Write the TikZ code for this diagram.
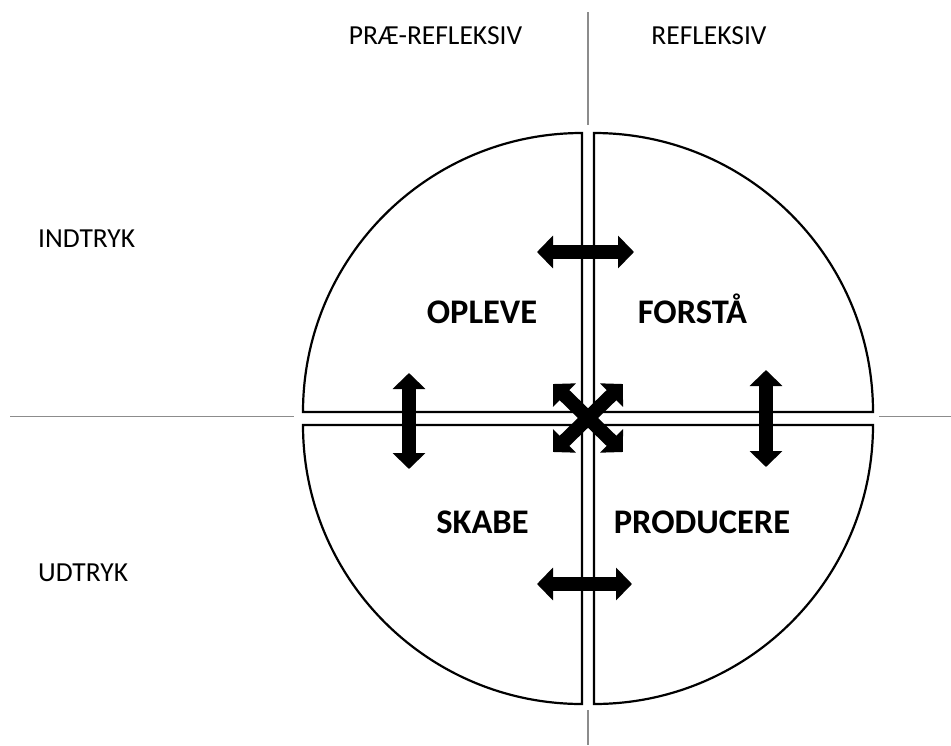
\documentclass[tikz,border=0pt]{standalone}
\usepackage{fontspec}
\setmainfont{Carlito}
\usetikzlibrary{arrows.meta}
\begin{document}
\begin{tikzpicture}[x=1pt,y=-1pt,
  quad/.style={draw=black,line width=2.2pt,fill=white,line join=miter},
  axisline/.style={draw=black!45,line width=1.3pt},
  blockarrow/.style={line width=14pt,{Triangle[length=16pt,width=32pt]}-{Triangle[length=16pt,width=32pt]}},
  hlabel/.style={font=\fontsize{27.5}{32}\selectfont,inner sep=0pt,anchor=base},
  qlabel/.style={font=\fontsize{34.5}{40}\selectfont\bfseries,inner sep=0pt,anchor=base}]
\useasboundingbox[fill=white] (0,0) rectangle (951,745);
% axis lines
\coordinate (hl1) at (10,416.5); \coordinate (hl2) at (294,416.5);
\coordinate (hr1) at (879,416.5); \coordinate (hr2) at (951,416.5);
\coordinate (vt1) at (588,12); \coordinate (vt2) at (588,125);
\coordinate (vb1) at (588,710); \coordinate (vb2) at (588,745);
\draw[axisline] (hl1) -- (hl2);
\draw[axisline] (hr1) -- (hr2);
\draw[axisline] (vt1) -- (vt2);
\draw[axisline] (vb1) -- (vb2);
% quadrants
\draw[quad] (582,412) -- (303,412) arc[start angle=180,end angle=270,radius=279] -- cycle;
\draw[quad] (594,412) -- (873,412) arc[start angle=0,end angle=-90,radius=279] -- cycle;
\draw[quad] (582,425) -- (303,425) arc[start angle=180,end angle=90,radius=279] -- cycle;
\draw[quad] (594,425) -- (873,425) arc[start angle=0,end angle=90,radius=279] -- cycle;
% headers
\node[hlabel] (pre) at (435.5,44) {PRÆ-REFLEKSIV};
\node[hlabel] (ref) at (709,44) {REFLEKSIV};
\node[hlabel,anchor=base west] (ind) at (38,247) {INDTRYK};
\node[hlabel,anchor=base west] (udt) at (38,581) {UDTRYK};
% quadrant labels
\node[qlabel] (opl) at (482,323) {OPLEVE};
\node[qlabel] (for) at (692.5,323) {FORSTÅ};
\node[qlabel] (ska) at (482.5,533) {SKABE};
\node[qlabel] (pro) at (702,533) {PRODUCERE};
% arrows
\coordinate (t1) at (537,252); \coordinate (t2) at (634,252);
\coordinate (b1) at (537,584); \coordinate (b2) at (632,584);
\coordinate (l1) at (409,373); \coordinate (l2) at (409,469);
\coordinate (r1) at (766,370); \coordinate (r2) at (766,467);
\coordinate (d1) at (553,384); \coordinate (d2) at (623,452);
\coordinate (e1) at (623,384); \coordinate (e2) at (553,452);
\draw[blockarrow] (t1) -- (t2);
\draw[blockarrow] (b1) -- (b2);
\draw[blockarrow] (l1) -- (l2);
\draw[blockarrow] (r1) -- (r2);
\draw[blockarrow] (d1) -- (d2);
\draw[blockarrow] (e1) -- (e2);
\end{tikzpicture}
\end{document}
